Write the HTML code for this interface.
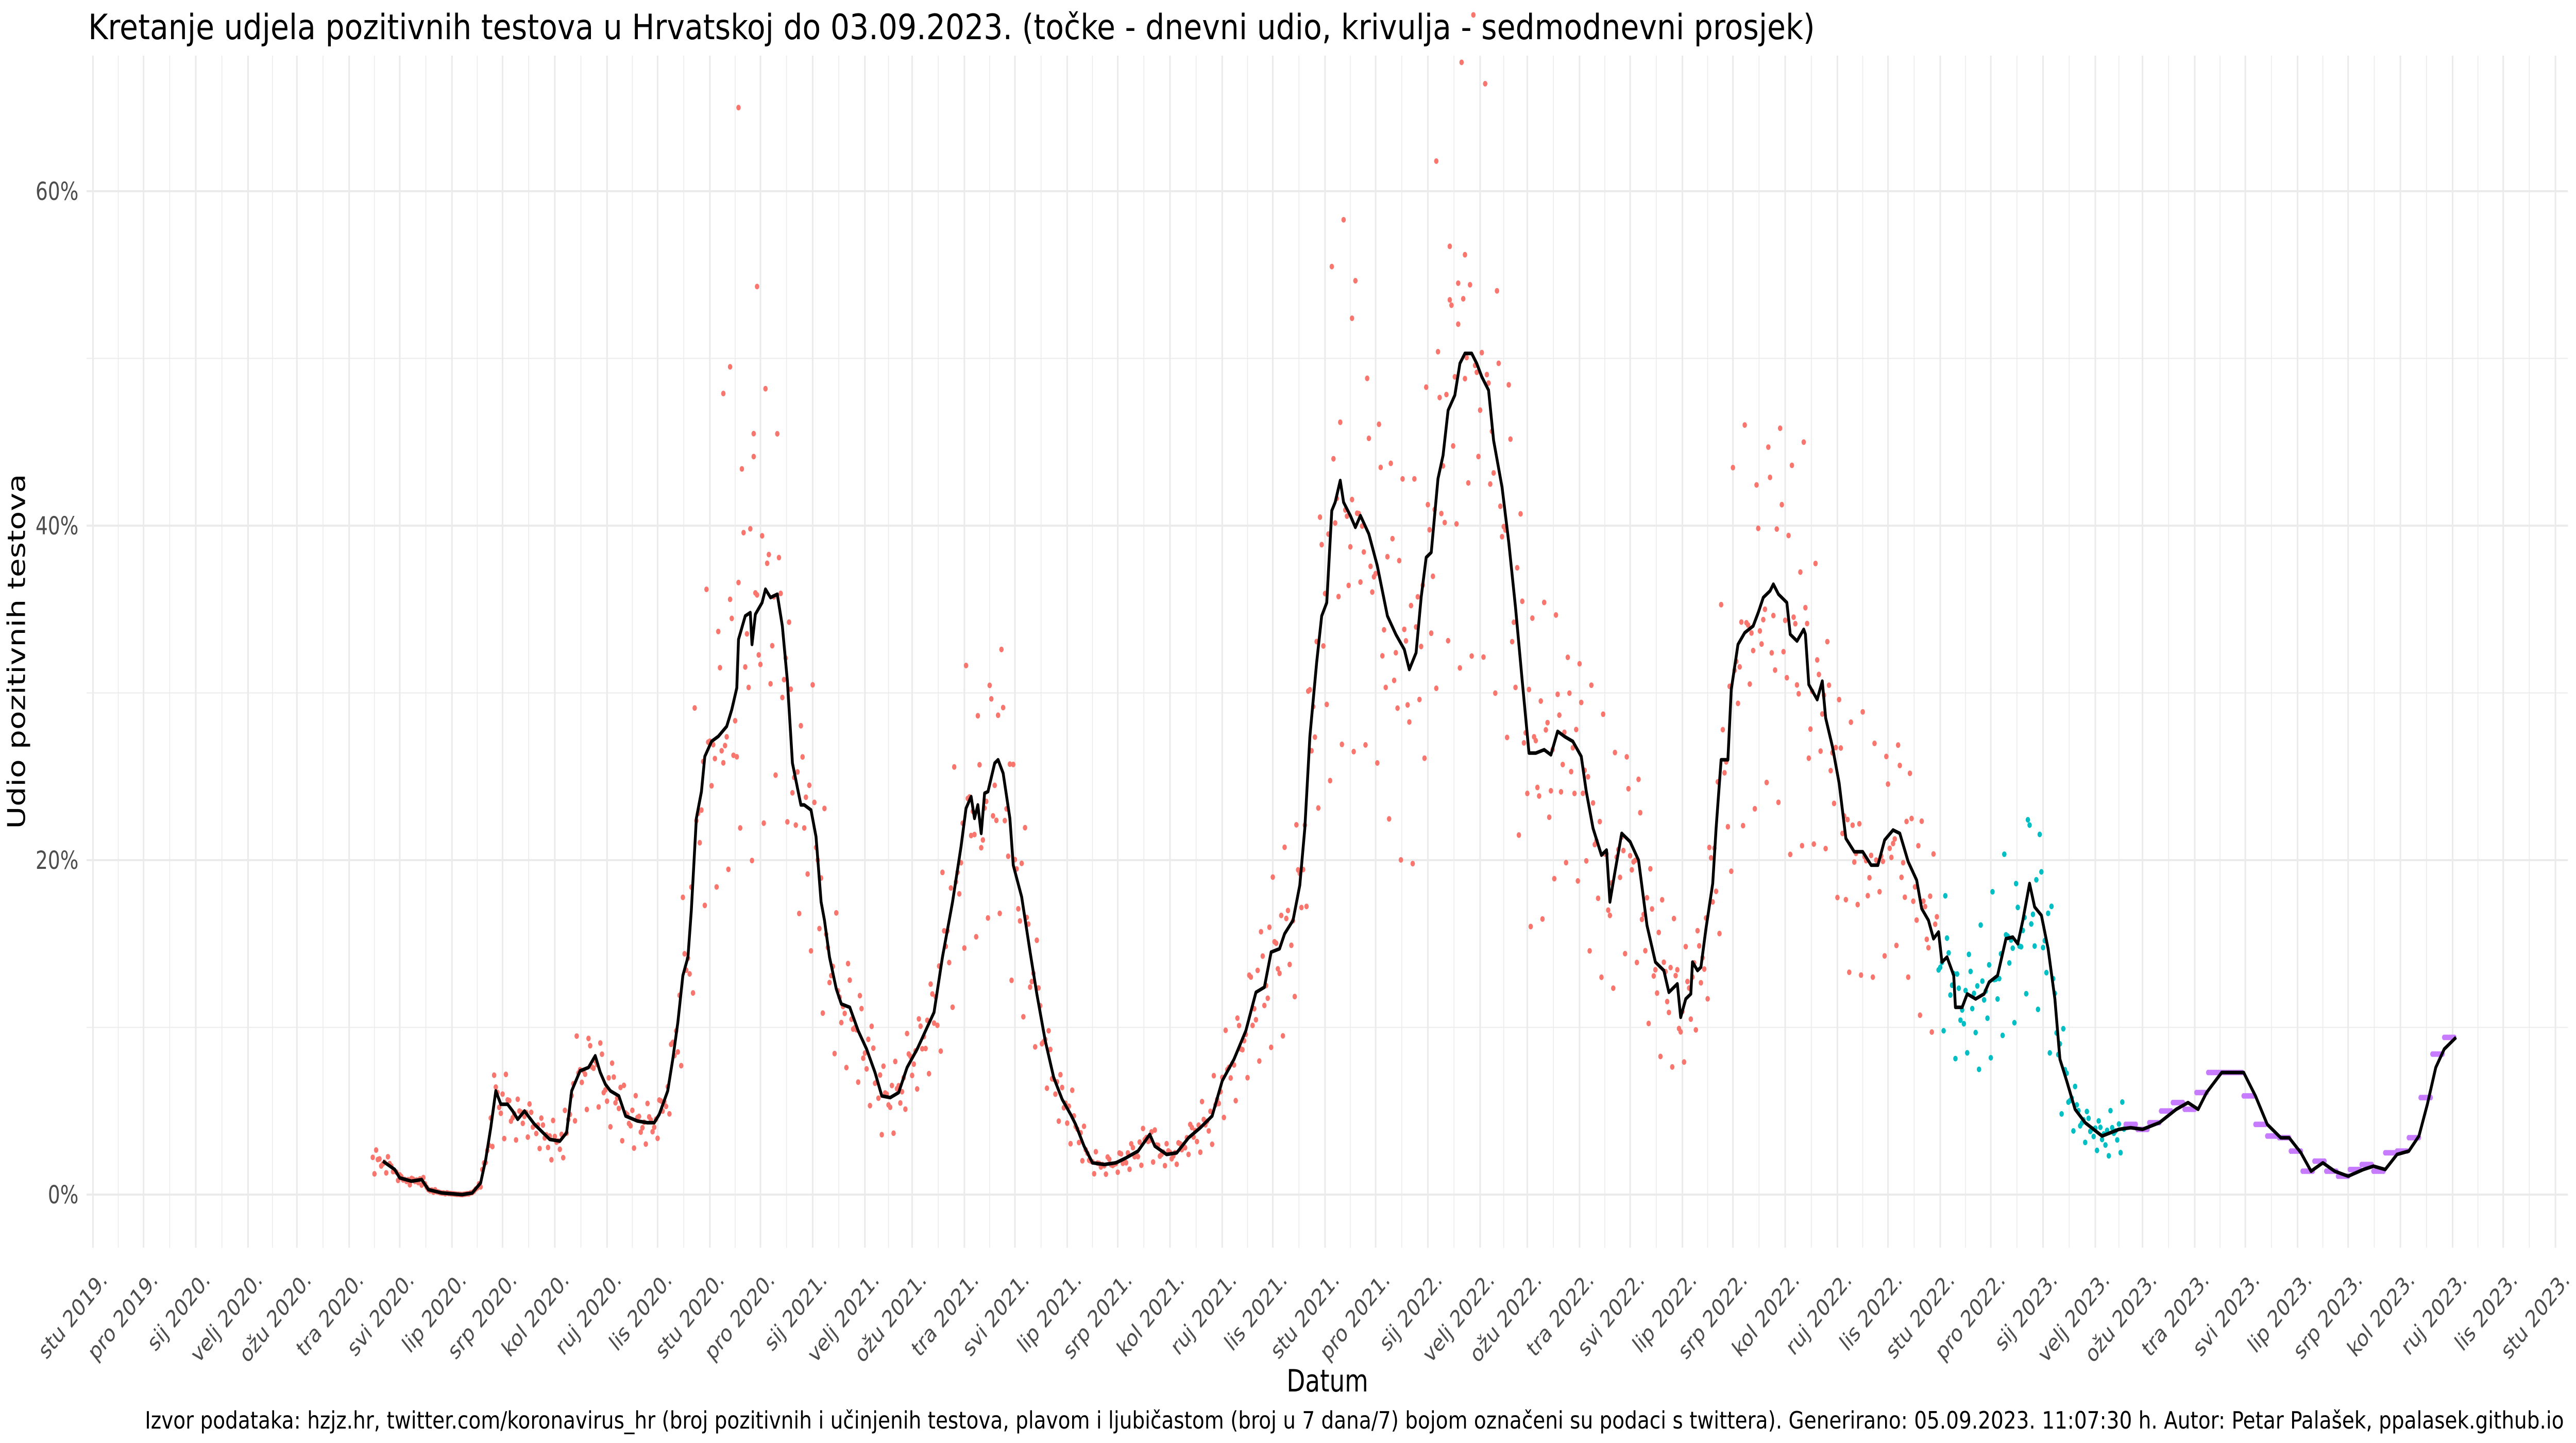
<!DOCTYPE html>
<html><head><meta charset="utf-8"><style>
html,body{margin:0;padding:0;background:#fff;overflow:hidden}
svg{display:block;width:100vw;height:100vh}
text{font-family:"DejaVu Sans","Liberation Sans",sans-serif}
</style></head><body>
<svg id="chart" viewBox="0 0 6400 2800" preserveAspectRatio="none" overflow="hidden" xmlns="http://www.w3.org/2000/svg">
<rect width="6400" height="2800" fill="#fff"/>
<g id="grid"></g>
<g id="ylabels"></g>
<g id="xlabels"></g>
<g id="points"></g>
<g id="weekly"></g>
<path id="avgline" fill="none" stroke="#000" stroke-width="7" stroke-linejoin="round"/>
<text x="219" y="76" font-size="68" textLength="4290" lengthAdjust="spacingAndGlyphs" fill="#000">Kretanje udjela pozitivnih testova u Hrvatskoj do 03.09.2023. (točke - dnevni udio, krivulja - sedmodnevni prosjek)</text>
<text x="3298" y="2700" font-size="60" text-anchor="middle" fill="#000">Datum</text>
<text transform="translate(62,1264) rotate(-90)" font-size="60" text-anchor="middle" fill="#000">Udio pozitivnih testova</text>
<text x="360" y="2772" font-size="46" textLength="6010" lengthAdjust="spacingAndGlyphs" fill="#000">Izvor podataka: hzjz.hr, twitter.com/koronavirus_hr (broj pozitivnih i učinjenih testova, plavom i ljubičastom (broj u 7 dana/7) bojom označeni su podaci s twittera). Generirano: 05.09.2023. 11:07:30 h. Autor: Petar Palašek, ppalasek.github.io</text>
</svg>
<script>
// days since 2019-11-01
const lineDay = [172,179,182,189,195,199,207,219,225,230,233,236,239,242,246,249,252,256,262,265,271,277,281,284,289,294,298,301,304,307,312,316,323,329,333,336,341,344,347,350,353,355,358,361,363,367,371,376,379,382,383,387,390,391,393,397,399,402,406,409,412,415,420,
422,426,429,432,434,437,441,444,449,454,459,464,468,473,478,483,489,494,499,504,510,515,518,521,523,525,527,529,531,535,537,540,544,546,551,556,560,565,570,575,580,583,588,593,600,607,613,620,627,630,637,643,650,657,664,670,677,684,690,695,699,704,707,712,716,719,722,726,729,732,735,737,740,742,746,749,752,757,762,768,773,778,781,785,788,791,794,798,801,804,808,811,814,818,821,824,828,831,836,840,844,848,852,856,861,865,869,873,878,883,886,890,895,898,900,903,907,912,917,922,927,932,935,940,942,945,948,
949,952,954,957,961,963,966,970,972,976,980,985,988,991,995,997,1000,1005,1007,1011,1015,1016,1018,1023,1026,1028,1032,1036,1040,1045,1050,1055,1059,1063,1068,1072,1077,1082,1085,1089,1092,1095,1097,1100,1104,1105,1109,1112,1117,1122,1125,1130,1135,1139,1142,1145,1149,1152,1156,1160,1164,1167,1171,1176,1182,1187,1192,1197,1202,1209,1216,1226,1236,1243,1249,1254,1263,1270,1276,1283,1290,1298,1303,1310,1316,1323,1330,1338,1347,1353,1360,1367,1374,1380,1385,1390,1395,1402];
const lineVal = [2.0,1.5,1.0,0.8,0.9,0.3,0.1,0.0,0.1,0.7,2.1,4.0,6.2,5.4,5.4,5.0,4.5,5.0,4.2,3.9,3.3,3.2,3.7,6.2,7.4,7.6,8.3,7.3,6.6,6.2,5.9,4.7,4.4,4.3,4.3,4.8,6.2,8.1,10.3,13.1,14.2,17.0,22.5,24.1,26.2,27.1,27.4,28.0,29.0,30.3,33.2,34.6,34.8,32.9,34.7,35.4,36.2,35.7,35.9,34.0,30.7,25.8,23.3,
23.3,23.0,21.4,17.5,16.4,14.2,12.3,11.4,11.2,9.8,8.7,7.3,5.9,5.8,6.1,7.6,8.7,9.8,10.9,14.2,17.5,20.8,23.1,23.8,22.5,23.3,21.6,24.0,24.1,25.8,26.0,25.2,22.5,19.7,17.8,14.5,12.0,9.2,7.0,5.7,4.8,4.2,2.9,1.9,1.8,1.9,2.2,2.6,3.6,2.9,2.4,2.5,3.4,4.0,4.7,6.8,8.1,9.8,12.1,12.4,14.5,14.7,15.6,16.4,18.5,21.9,27.4,31.8,34.6,35.4,40.9,41.4,42.7,41.4,40.6,39.9,40.6,39.5,37.6,34.6,33.5,32.6,31.4,32.4,35.7,38.1,38.4,42.8,44.2,46.9,47.8,49.7,50.3,50.3,49.7,48.9,48.1,45.1,42.3,39.0,35.1,30.7,26.4,26.4,26.6,26.3,27.7,27.4,27.1,26.2,24.1,21.9,20.3,20.6,17.5,19.3,21.6,21.1,20.0,16.1,13.9,13.4,12.1,12.6,10.6,11.7,12.0,
13.9,13.4,13.6,15.9,18.6,21.9,26.0,26.0,30.2,32.9,33.6,34.0,34.8,35.7,36.1,36.5,35.9,35.4,33.5,33.1,33.8,33.5,30.5,29.6,30.7,28.5,26.8,24.6,21.3,20.5,20.5,19.7,19.7,21.2,21.8,21.6,19.9,18.8,17.1,16.4,15.3,15.7,13.9,14.2,13.1,11.2,11.2,12.0,11.7,12.0,12.7,13.1,15.3,15.4,15.0,16.4,18.6,17.2,16.7,14.7,11.7,8.1,6.8,5.1,4.3,3.9,3.5,3.7,3.9,4.0,3.9,4.3,5.1,5.5,5.1,6.1,7.3,7.3,7.3,5.9,4.2,3.4,3.4,2.5,1.4,1.9,1.4,1.1,1.5,1.7,1.5,2.4,2.6,3.5,5.4,7.6,8.7,9.4];
// daily point scatter pattern (relative to weekly trend)
const weekdayFactor = [1.28,1.08,0.97,0.93,0.9,1.04,0.66];
const jitter = [1.0,1.07,0.94,1.04,0.97,1.1,0.92,1.02,0.96,1.06,0.99];
const redStart = 166, cyanStart = 1095, cyanEnd = 1205;
const outlierDay = [383,394,374,378,797,747,814,810,392,805];
const outlierVal = [65.0,54.3,47.9,49.5,61.8,52.4,56.2,54.5,45.5,53.5];
// weekly (twitter) purple series
const weeklyStart = 1206;
const weeklyVal = [4.2,3.9,4.3,5.0,5.5,5.1,6.1,7.3,7.3,7.3,5.9,4.2,3.5,3.4,2.6,1.4,2.0,1.4,1.1,1.5,1.8,1.4,2.5,2.6,3.4,5.8,8.4,9.4];
const yTicks = [0,20,40,60];
const yMinor = [10,30,50];
const monthNames = ["sij","velj","ožu","tra","svi","lip","srp","kol","ruj","lis","stu","pro"];

const NS="http://www.w3.org/2000/svg";
const X0=231, PXD=4.1875, Y0=2318, PXV=32.45;
const xs=d=>X0+d*PXD;
const ys=v=>Y0-v*PXV;
function mk(tag,attrs,parent){const e=document.createElementNS(NS,tag);for(const k in attrs)e.setAttribute(k,attrs[k]);parent.appendChild(e);return e;}
const grid=document.getElementById('grid');
const ticks=[];
let y=2019,m=10;
const base=Date.UTC(2019,10,1);
while(true){const d=(Date.UTC(y,m,1)-base)/864e5;ticks.push({d,label:monthNames[m]+" "+y+"."});if(y===2023&&m===10)break;m++;if(m>11){m=0;y++;}}
for(let i=0;i<ticks.length;i++){
  const x=xs(ticks[i].d);
  const l=mk('line',{x1:x,x2:x,y1:108,y2:2421,stroke:'#ebebeb','stroke-width':4},grid);
  
  
  if(i<ticks.length-1){const xm=xs((ticks[i].d+ticks[i+1].d)/2);
    const n=mk('line',{x1:xm,x2:xm,y1:108,y2:2421,stroke:'#ebebeb','stroke-width':2},grid);
    
    }
  const t=mk('text',{transform:`translate(${x+14},2462) rotate(-45)`,'font-size':46,'text-anchor':'end',fill:'#4d4d4d','dominant-baseline':'hanging'},document.getElementById('xlabels'));
  t.textContent=ticks[i].label;
  
  
}
{const xm=xs(ticks[ticks.length-1].d+15);const n=mk('line',{x1:xm,x2:xm,y1:108,y2:2421,stroke:'#ebebeb','stroke-width':2},grid);

}
for(const v of yMinor){const l=mk('line',{x1:215,x2:6380,y1:ys(v),y2:ys(v),stroke:'#ebebeb','stroke-width':2},grid);

}
for(const v of yTicks){const l=mk('line',{x1:215,x2:6380,y1:ys(v),y2:ys(v),stroke:'#ebebeb','stroke-width':4},grid);


const t=mk('text',{x:195,y:ys(v)+17,'font-size':48,'text-anchor':'end',fill:'#4d4d4d'},document.getElementById('ylabels'));
t.textContent=v+"%";

}
function trend(d){if(d<=lineDay[0])return lineVal[0];for(let i=1;i<lineDay.length;i++){if(d<=lineDay[i]){const f=(d-lineDay[i-1])/(lineDay[i]-lineDay[i-1]);return lineVal[i-1]+f*(lineVal[i]-lineVal[i-1]);}}return lineVal[lineVal.length-1];}
const pg=document.getElementById('points');
for(let d=redStart;d<=cyanEnd;d++){
  const v=trend(d)*weekdayFactor[d%7]*jitter[d%jitter.length];
  const c=mk('circle',{cx:xs(d),cy:ys(v),r:5.5,fill:d<cyanStart?'#F8766D':'#00BFC4'},pg);
  
  
}
for(let i=0;i<outlierDay.length;i++){
  const c=mk('circle',{cx:xs(outlierDay[i]),cy:ys(outlierVal[i]),r:5.5,fill:'#F8766D'},pg);
  
  
}
const wg=document.getElementById('weekly');
for(let k=0;k<weeklyVal.length;k++){
  for(let j=0;j<7;j++){const d=weeklyStart+k*7+j;
    const c=mk('circle',{cx:xs(d),cy:ys(weeklyVal[k]),r:5.5,fill:'#C77CFF'},wg);
    
    }
}
let p='';
for(let i=0;i<lineDay.length;i++){p+=(i?'L':'M')+xs(lineDay[i]).toFixed(1)+','+ys(lineVal[i]).toFixed(1);}
document.getElementById('avgline').setAttribute('d',p);
</script>
</body></html>
